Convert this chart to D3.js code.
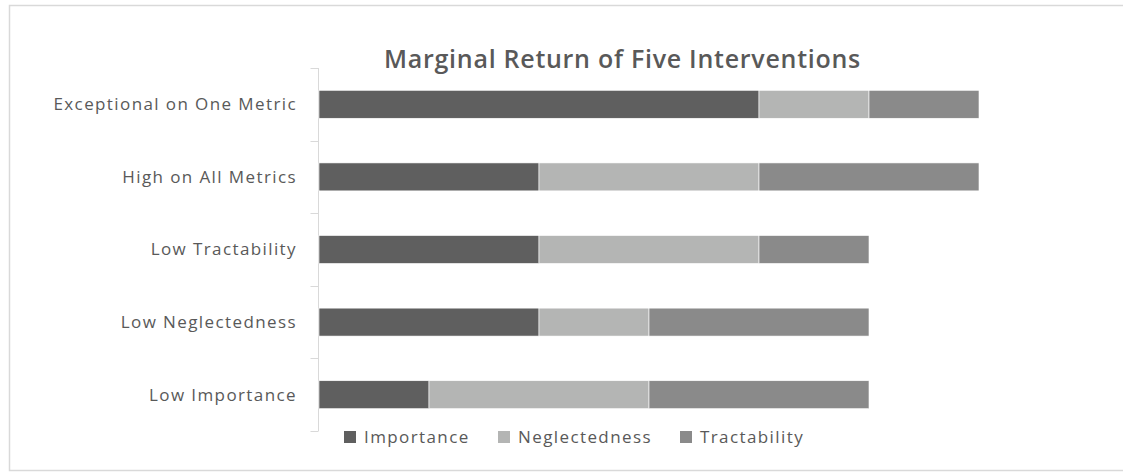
<!DOCTYPE html>
<html><head><meta charset="utf-8">
<script src="https://cdn.jsdelivr.net/npm/d3@7"></script>
<style>body{margin:0;background:#fff}svg{display:block}text{font-family:"Open Sans","Noto Sans",sans-serif}</style>
</head><body>
<svg id="c" width="1123" height="472"></svg>
<script>
const title = "Marginal Return of Five Interventions";
const categories = ["Exceptional on One Metric","High on All Metrics","Low Tractability","Low Neglectedness","Low Importance"];
const seriesNames = ["Importance","Neglectedness","Tractability"];
const importance = [4,2,2,2,1];
const neglectedness = [1,2,2,1,2];
const tractability = [1,2,1,2,2];
const colors = ["#5f5f5f","#b4b5b4","#8a8a8a"];

const svg = d3.select("#c");
svg.append("rect").attr("x",9.5).attr("y",5.5).attr("width",1130).attr("height",465)
  .attr("fill","none").attr("stroke","#d9d9d9").attr("stroke-width",1.5);

const table = categories.map((c,i)=>({cat:c,Importance:importance[i],Neglectedness:neglectedness[i],Tractability:tractability[i]}));
const stack = d3.stack().keys(seriesNames)(table);

const x = d3.scaleLinear().domain([0,6]).range([319,979]);
const y = d3.scaleBand().domain(categories).range([68,431]).paddingInner(0).paddingOuter(0);
const barH = y.bandwidth()*0.385;
const color = d3.scaleOrdinal().domain(seriesNames).range(colors);

const t = svg.append("text").attr("x",622.5).attr("y",68).attr("text-anchor","middle")
  .attr("font-size",25).attr("font-weight",600).attr("fill","#595959").text(title);
const tw = t.node().getComputedTextLength();
t.attr("letter-spacing", Math.max(0,(477-tw)/title.length)+"px");

const axisG = svg.append("g").attr("transform","translate(318.5,0)");
axisG.append("line").attr("x1",0).attr("x2",0).attr("y1",68).attr("y2",431).attr("stroke","#d9d9d9");
const tickYs = categories.map(c=>y(c)).concat([y.range()[1]]);
axisG.selectAll("line.t").data(tickYs).join("line").attr("class","t")
  .attr("x1",-8).attr("x2",0).attr("y1",d=>Math.round(d)+0.5).attr("y2",d=>Math.round(d)+0.5).attr("stroke","#d9d9d9");
svg.selectAll("text.cat").data(categories).join("text").attr("class","cat")
  .attr("x",297).attr("y",c=>y(c)+y.bandwidth()/2).attr("dy","0.35em")
  .attr("text-anchor","end").attr("font-size",17).attr("letter-spacing","1.4px").attr("fill","#595959").text(c=>c);

svg.append("g").selectAll("g").data(stack).join("g").attr("fill",d=>color(d.key))
  .selectAll("rect").data(d=>d).join("rect")
  .attr("x",d=>x(d[0])).attr("width",d=>x(d[1])-x(d[0]))
  .attr("y",d=>y(d.data.cat)+(y.bandwidth()-barH)/2).attr("height",barH)
  .attr("stroke","#fff").attr("stroke-width",0.6);

const legX = [344,498,680];
const lg = svg.append("g").selectAll("g").data(seriesNames).join("g")
  .attr("transform",(d,i)=>`translate(${legX[i]},437)`);
lg.append("rect").attr("x",0).attr("y",-6).attr("width",12).attr("height",12).attr("fill",d=>color(d));
lg.append("text").attr("x",20).attr("y",0).attr("dy","0.35em").attr("font-size",17).attr("letter-spacing","1.4px").attr("fill","#595959").text(d=>d);
</script>
</body></html>
